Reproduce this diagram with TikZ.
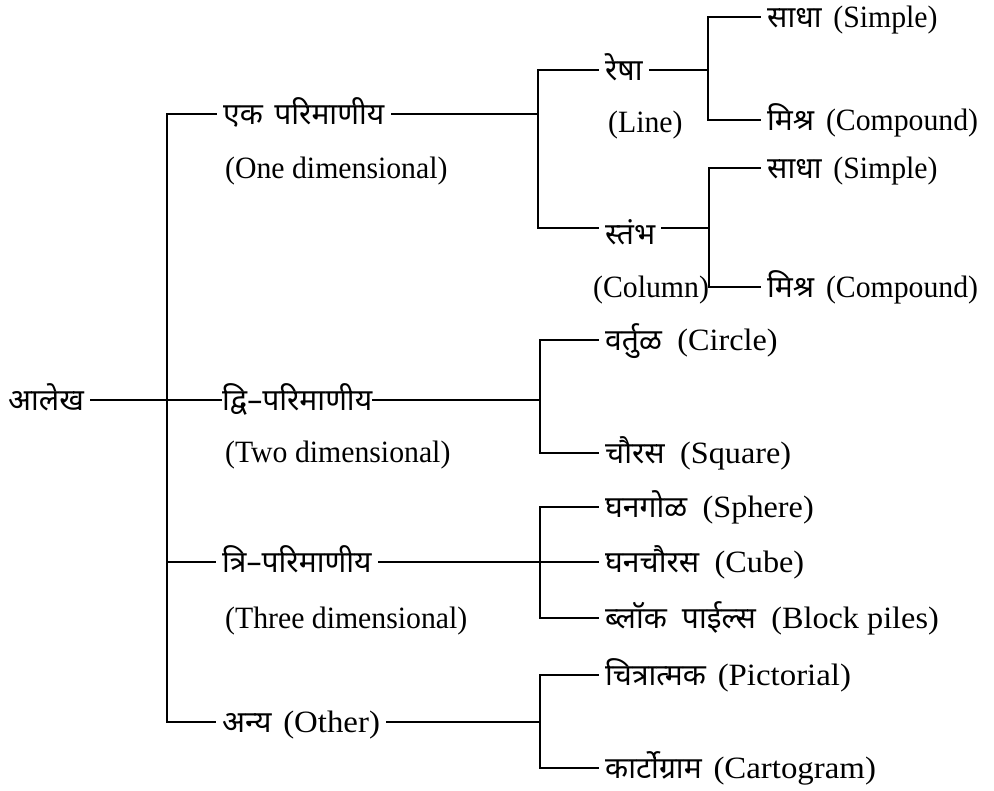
\documentclass[tikz,border=0pt]{standalone}
\usepackage{fontspec}
\setmainfont{Liberation Serif}[FakeStretch=0.96]
\newfontfamily\latA{Liberation Serif}[FakeStretch=1.04]
\newfontfamily\latB{Liberation Serif}[FakeStretch=1.06]
\newfontfamily\dev[Script=Devanagari,Scale=0.97]{Noto Sans}
\newcommand{\gapw}{\hspace{0.38em}}
\newcommand{\gapx}{\hspace{0.5em}}
\tikzset{
  lbl/.style={anchor=west, inner ysep=0pt, inner xsep=7pt, text height=24pt, text depth=3pt,
     font=\fontsize{31}{36}\selectfont},
  tight/.style={inner xsep=1pt},
  ln/.style={line width=1.9pt, line cap=rect}
}
\begin{document}
\begin{tikzpicture}[x=1pt,y=-1pt]
\useasboundingbox (0,0) rectangle (994,791);
% root and first level
\node[lbl] (root) at (1,400) {\dev आलेख};
\node[lbl] (d1) at (216,114) {\dev एक\gapw परिमाणीय};
\node[lbl] (d1e) at (218,168) {(One dimensional)};
\node[lbl,tight] (d2) at (221,400) {\dev द्वि–परिमाणीय};
\node[lbl] (d2e) at (218,452) {(Two dimensional)};
\node[lbl] (d3) at (215,562) {\dev त्रि–परिमाणीय};
\node[lbl] (d3e) at (218,618) {(Three dimensional)};
\node[lbl] (d4) at (215,722) {{\dev अन्य}\gapw{\latB(Other)}};
\coordinate (trT) at (167,114);
\coordinate (trB) at (167,722);
\draw[ln] (d1.west) -- (trT) -- (trB) -- (d4.west);
\draw[ln] (root) -- (d2);
\draw[ln] (d3.west) -- (d3.west -| trT);
% one dimensional
\node[lbl] (rek) at (598,70) {\dev रेषा};
\node[lbl] (rekE) at (601,122) {(Line)};
\node[lbl] (stb) at (598,234) {\dev स्तंभ};
\node[lbl,tight] (stbE) at (592,287) {(Column)};
\coordinate (v1T) at (538,70);
\coordinate (v1B) at (538,228);
\draw[ln] (rek.west) -- (v1T) -- (v1B) -- (v1B -| stb.west);
\draw[ln] (d1.east) -- (d1.east -| v1T);
\node[lbl] (s1) at (760,17) {{\dev साधा}\gapw(Simple)};
\node[lbl] (m1) at (760,120) {{\dev मिश्र}\gapw(Compound)};
\coordinate (v2T) at (708,17);
\coordinate (v2B) at (708,120);
\draw[ln] (s1.west) -- (v2T) -- (v2B) -- (m1.west);
\draw[ln] (rek.east) -- (rek.east -| v2T);
\node[lbl] (s2) at (760,168) {{\dev साधा}\gapw(Simple)};
\node[lbl] (m2) at (760,287) {{\dev मिश्र}\gapw(Compound)};
\coordinate (v3T) at (709,168);
\coordinate (v3B) at (709,287);
\draw[ln] (s2.west) -- (v3T) -- (v3B) -- (m2.west);
\draw[ln] (v1B -| stb.east) -- (v1B -| v3T);
\draw[ln] (stbE.east) -- (v3B);
% two dimensional
\node[lbl] (cir) at (598,340) {{\dev वर्तुळ}\gapx{\latA(Circle)}};
\node[lbl] (squ) at (598,453) {{\dev चौरस}\gapx{\latA(Square)}};
\coordinate (v4T) at (540,340);
\coordinate (v4B) at (540,453);
\draw[ln] (cir.west) -- (v4T) -- (v4B) -- (squ.west);
\draw[ln] (d2.east) -- (d2.east -| v4T);
% three dimensional
\node[lbl] (sph) at (598,507) {{\dev घनगोळ}\gapx{\latA(Sphere)}};
\node[lbl] (cub) at (598,562) {{\dev घनचौरस}\gapx{\latA(Cube)}};
\node[lbl] (blk) at (598,618) {{\dev ब्लॉक\gapx पाईल्स}\gapx{\latA(Block piles)}};
\coordinate (v5T) at (540,507);
\coordinate (v5B) at (540,618);
\draw[ln] (sph.west) -- (v5T) -- (v5B) -- (blk.west);
\draw[ln] (d3.east) -- (cub.west);
% other
\node[lbl] (pic) at (598,675) {{\dev चित्रात्मक}\gapw{\latB(Pictorial)}};
\node[lbl] (car) at (598,768) {{\dev कार्टोग्राम}\gapw{\latB(Cartogram)}};
\coordinate (v6T) at (540,675);
\coordinate (v6B) at (540,768);
\draw[ln] (pic.west) -- (v6T) -- (v6B) -- (car.west);
\draw[ln] (d4.east) -- (d4.east -| v6T);
\end{tikzpicture}
\end{document}
